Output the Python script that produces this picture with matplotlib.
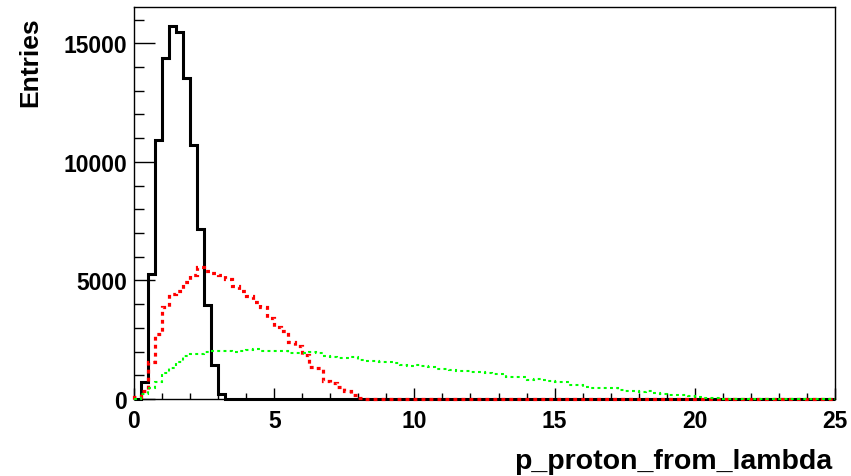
import numpy as np
import matplotlib
matplotlib.use("Agg")
import matplotlib.pyplot as plt
from matplotlib.ticker import MultipleLocator

# histogram: 100 bins over [0, 25]
x_lo, x_hi, n_bins = 0.0, 25.0, 100

black_vals = [0, 730, 5270, 10940, 14380, 15745, 15465, 13525, 10730, 7170,
              3964, 1434, 210] + [0] * 87

red_vals = [100, 350, 1570, 2740, 3880, 4430, 4570, 4950, 5250, 5550,
            5380, 5330, 5220, 5060, 4780, 4570, 4330, 4100, 3894, 3430,
            3050, 2868, 2418, 2221, 1856, 1336, 1294, 773, 675, 492,
            352, 169, 50] + [0] * 67

green_vals = [20, 200, 450, 700, 1100, 1300, 1550, 1800, 1900, 1900,
              2000, 2040, 2040, 2020, 2000, 2040, 2060, 2100, 2030, 2040,
              2040, 2040, 1940, 1940, 1960, 1970, 1940, 1830, 1760, 1720,
              1720, 1760, 1660, 1620, 1600, 1575, 1575, 1500, 1434, 1406,
              1434, 1378, 1336, 1265, 1250, 1237, 1195, 1170, 1153, 1125,
              1090, 1054, 1054, 941, 941, 941, 815, 843, 815, 745,
              731, 731, 605, 591, 520, 470, 450, 450, 450, 394,
              352, 323, 281, 352, 253, 211, 169, 169, 169, 130,
              90, 60, 42, 42, 15, 10, 5, 0, 0, 0,
              0, 0, 0, 0, 0, 0, 0, 0, 0, 0]

x_label = "p_proton_from_lambda"
y_label = "Entries"

edges = np.linspace(x_lo, x_hi, n_bins + 1)

plt.rcParams['font.family'] = ['Liberation Sans', 'DejaVu Sans']
plt.rcParams['font.weight'] = 'bold'

fig = plt.figure(figsize=(8.51, 4.77), dpi=100)
ax = fig.add_axes([134 / 851, 1 - 400 / 477, 701 / 851, 392 / 477])

ax.stairs(black_vals, edges, color='black', lw=2.2, clip_on=False, zorder=3)
ax.stairs(red_vals, edges, color='#ff0000', lw=2.3, linestyle=(0, (1.2, 1.3)),
          clip_on=False, zorder=4)
ax.stairs(green_vals, edges, color='#00ff00', lw=1.5, linestyle=(0, (1.4, 1.6)),
          clip_on=False, zorder=5)

ax.set_xlim(x_lo, x_hi)
ax.set_ylim(0, 1.05 * max(black_vals))

ax.xaxis.set_major_locator(MultipleLocator(5))
ax.xaxis.set_minor_locator(MultipleLocator(1))
ax.yaxis.set_major_locator(MultipleLocator(5000))
ax.yaxis.set_minor_locator(MultipleLocator(1000))

ax.tick_params(axis='x', which='major', direction='in', length=8, width=1, pad=7,
               labelsize=16.5)
ax.tick_params(axis='x', which='minor', direction='in', length=4, width=1)
ax.tick_params(axis='y', which='major', direction='in', length=15, width=1, pad=5,
               labelsize=16.5)
ax.tick_params(axis='y', which='minor', direction='in', length=7.5, width=1)
for lab in ax.get_xticklabels() + ax.get_yticklabels():
    lab.set_fontweight('bold')

for s in ax.spines.values():
    s.set_linewidth(1)

fig.text(30 / 851, 1 - 17 / 477, y_label, rotation=90, ha='center', va='top',
         fontsize=19, fontweight='bold')
fig.text(832 / 851, 1 - 462 / 477, x_label, ha='right', va='center',
         fontsize=20.5, fontweight='bold')

fig.savefig("out.png", dpi=100)
